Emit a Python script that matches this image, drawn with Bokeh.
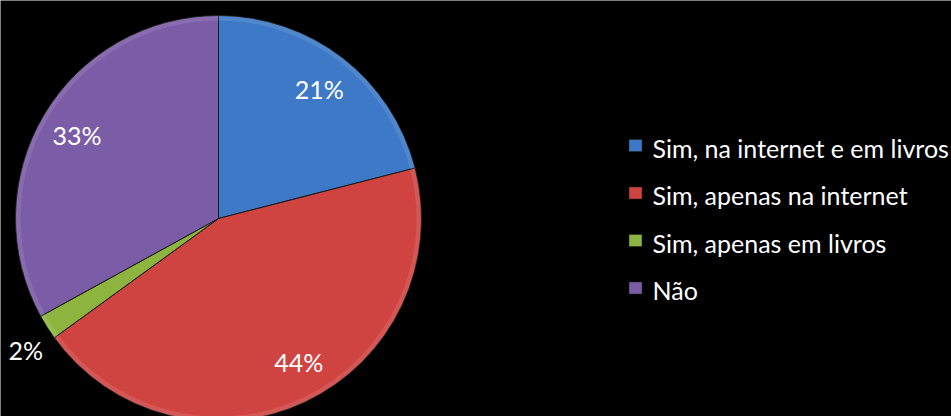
import math
from bokeh.plotting import figure
from bokeh.models import Range1d, ColumnDataSource
from bokeh.core.properties import value
from bokeh.embed import file_html
from bokeh.resources import INLINE

# ---- data ----
categories = ["Sim, na internet e em livros", "Sim, apenas na internet",
              "Sim, apenas em livros", "Não"]
percent = [21, 44, 2, 33]
labels = ["21%", "44%", "2%", "33%"]
colors = ["#3D79C7", "#CF4441", "#8DB43F", "#7B5CA6"]

# ---- geometry (screen pixels, y up = -image y) ----
W, H = 951, 416
cx, cy, R = 218, -218, 203

total = sum(percent)
starts, ends, mids = [], [], []
acc = 0.0
for v in percent:
    a0 = math.radians(90 - acc / total * 360)
    acc += v
    a1 = math.radians(90 - acc / total * 360)
    starts.append(a0)
    ends.append(a1)
    mids.append((a0 + a1) / 2)

# label placement: inside at 80% radius, small slices outside; small angular nudge
lx, ly = [], []
for i, (v, m) in enumerate(zip(percent, mids)):
    frac = v / total
    r = R * (1.15 if frac < 0.05 else 0.81)
    ang = m + (math.radians(4) if frac > 0.4 else 0) + (math.radians(2) if frac < 0.05 else 0)
    lx.append(cx + r * math.cos(ang))
    ly.append(cy + r * math.sin(ang))

src = ColumnDataSource(dict(start=starts, end=ends, color=colors,
                            lx=lx, ly=ly, label=labels))

p = figure(width=W, height=H, x_range=Range1d(0, W), y_range=Range1d(-H, 0),
           output_backend="svg", toolbar_location=None, min_border=0)
p.axis.visible = False
p.grid.visible = False
p.outline_line_color = None
p.background_fill_color = "black"
p.border_fill_color = "black"

p.wedge(x=cx, y=cy, radius=R, start_angle="start", end_angle="end",
        direction="clock", fill_color="color", line_color="#1a1a1a",
        line_width=1, source=src)
# soft bevel rim
p.annular_wedge(x=cx, y=cy, inner_radius=R - 5, outer_radius=R,
                start_angle="start", end_angle="end", direction="clock",
                fill_color="white", fill_alpha=0.10, line_color=None, source=src)

p.text(x="lx", y="ly", text="label", source=src, text_color="white",
       text_font=value("Lato"), text_font_size="25px",
       text_align="center", text_baseline="middle")

# ---- legend ----
leg_x = 635
leg_y0 = -145
leg_dy = 47.5
sq_y = [leg_y0 - i * leg_dy for i in range(len(categories))]
leg_src = ColumnDataSource(dict(x=[leg_x] * len(categories), y=sq_y,
                                tx=[leg_x + 17] * len(categories),
                                ty=[y - 2 for y in sq_y],
                                color=colors, name=categories))
p.rect(x="x", y="y", width=13, height=12, fill_color="color",
       line_color="#222222", line_width=0.5, source=leg_src)
p.text(x="tx", y="ty", text="name", source=leg_src, text_color="white",
       text_font=value("Lato"), text_font_size="25px",
       text_align="left", text_baseline="middle")

html = file_html(p, INLINE)
html = html.replace("<body>",
                    '<body style="margin:0;background-color:#000000;overflow:hidden;">', 1)
open("out.html", "w").write(html)
